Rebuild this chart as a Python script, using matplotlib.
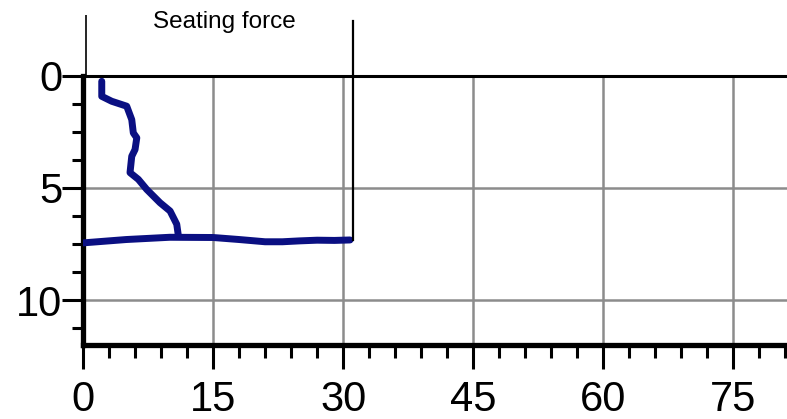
import matplotlib.pyplot as plt
import numpy as np
from matplotlib.ticker import MultipleLocator, FixedLocator

# traced values of the displacement curve (x: force, y: depth)
descent_x = [2.16, 2.16, 3.31, 5.04, 5.62, 5.80, 6.20, 6.00, 5.62, 5.42, 6.38, 7.35, 8.88, 10.04, 10.81, 11.0]
descent_y = [0.25, 0.92, 1.14, 1.36, 1.96, 2.55, 2.77, 3.29, 3.59, 4.32, 4.62, 5.07, 5.66, 6.03, 6.62, 7.14]

plateau_x = [0.0, 5.0, 10.0, 15.0, 18.0, 21.0, 23.0, 25.0, 27.0, 29.0, 30.8]
plateau_y = [7.45, 7.30, 7.20, 7.21, 7.30, 7.40, 7.40, 7.36, 7.33, 7.34, 7.32]

seat_force = 31.1
seat_depth = 7.3

x_major = [0, 15, 30, 45, 60, 75]
y_major = [0, 5, 10]
y_minor = [1.25, 2.5, 3.75, 6.25, 7.5, 8.75, 11.25]

plt.rcParams['font.family'] = ['Liberation Sans', 'DejaVu Sans']

fig = plt.figure(figsize=(7.87, 4.19), dpi=100)
ax = fig.add_axes([0.1055, 0.1766, 0.8945, 0.7874])

ax.set_xlim(0, 81.2)
ax.set_ylim(12, -2.7)

grid_col = '#8c8c8c'
ax.vlines(x_major[1:], 0, 12, colors=grid_col, linewidth=1.8, zorder=1)
ax.hlines(y_major[1:], 0, 81.2, colors=grid_col, linewidth=1.8, zorder=1)
ax.axhline(0, color='black', linewidth=2.2, zorder=3)
ax.plot([0.35, 0.35], [-2.7, 0], color='black', linewidth=1.2, zorder=3)

navy = '#0a0f82'
ax.plot(descent_x, descent_y, color=navy, linewidth=5, solid_capstyle='round', solid_joinstyle='round', zorder=4)
ax.plot(plateau_x, plateau_y, color=navy, linewidth=5, solid_capstyle='round', solid_joinstyle='round', zorder=4)

# seating force marker
ax.plot([seat_force, seat_force], [-2.42, seat_depth], color='black', linewidth=1.6, zorder=5)
ax.text(16.3, -2.4, 'Seating force', fontsize=17.5, ha='center', va='center')

for side in ['top', 'right']:
    ax.spines[side].set_visible(False)
ax.spines['left'].set_bounds(0, 12)
ax.spines['left'].set_linewidth(3.8)
ax.spines['bottom'].set_linewidth(3.8)

ax.set_xticks(x_major)
ax.set_yticks(y_major)
ax.xaxis.set_minor_locator(MultipleLocator(3))
ax.yaxis.set_minor_locator(FixedLocator(y_minor))
ax.tick_params(which='major', direction='out', width=2.2, labelsize=30, color='black')
ax.tick_params(axis='x', which='major', length=17, pad=8)
ax.tick_params(axis='y', which='major', length=15, pad=0)
ax.tick_params(axis='x', which='minor', direction='out', length=9, width=2.2)
ax.tick_params(axis='y', which='minor', direction='out', length=8, width=2.2)

fig.savefig('out.png', dpi=100)
